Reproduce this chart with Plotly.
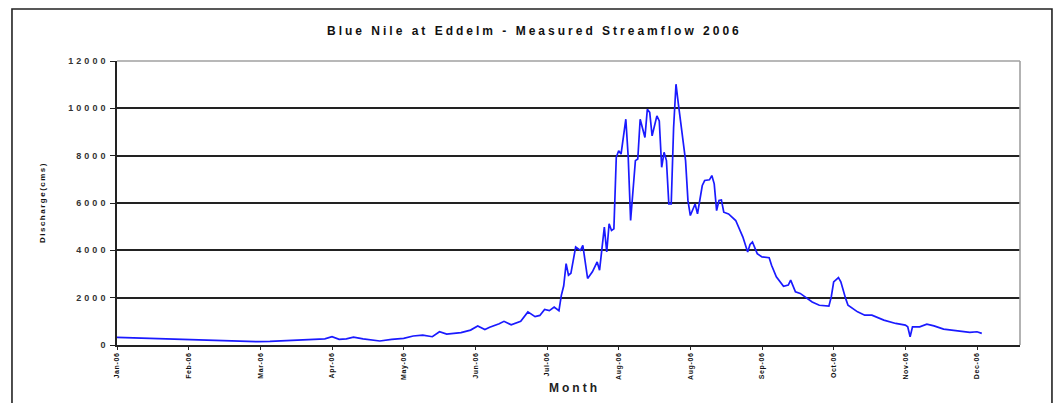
import pandas as pd
import plotly.graph_objects as go

# Daily discharge of the Blue Nile at Eddeim, 2006 (day offset from 1 Jan, m3/s)
day_of_year = [
    0, 7, 14, 22, 29, 38, 46, 53, 59, 64, 69, 76, 82, 87, 90, 93, 96, 99, 103,
    107, 110, 115, 120, 124, 128, 132, 135, 138, 141, 144, 148, 151, 154, 156,
    160, 162, 165, 169, 172, 175, 177, 179, 181, 183, 185, 186, 187, 188, 189,
    190, 192, 194, 195, 197, 199, 201, 202, 204, 205, 206, 207, 208, 209, 210,
    211, 213, 214, 215, 217, 218, 219, 221, 222, 223, 224, 226, 227, 228, 229,
    230, 231, 232, 233, 234, 235, 237, 238, 239, 240, 242, 243, 245, 246, 248,
    249, 250, 251, 252, 253, 254, 256, 259, 261, 262, 264, 265, 266, 268, 270,
    273, 274, 276, 279, 281, 282, 284, 286, 288, 291, 294, 298, 299, 300, 302,
    303, 305, 306, 310, 313, 316, 321, 326, 330, 331, 332, 333, 336, 339, 342,
    346, 351, 357, 360, 362,
]
discharge_cms = [
    320, 300, 280, 250, 210, 190, 180, 160, 140, 150, 170, 200, 240, 260, 350,
    240, 260, 330, 260, 200, 170, 240, 280, 380, 420, 350, 560, 460, 500, 520,
    630, 800, 650, 750, 900, 1000, 850, 1000, 1400, 1200, 1250, 1500, 1450,
    1600, 1450, 2100, 2500, 3440, 2950, 3030, 4140, 4000, 4210, 2810, 3090,
    3510, 3160, 4980, 3930, 5120, 4840, 4910, 7930, 8210, 8070, 9540, 7930,
    5260, 7790, 7860, 9540, 8770, 9960, 9830, 8840, 9680, 9470, 7510, 8140,
    7790, 5960, 5960, 9190, 11020, 10180, 8630, 7790, 6110, 5470, 5960, 5540,
    6740, 6950, 6980, 7160, 6810, 5680, 6110, 6130, 5610, 5540, 5260, 4840,
    4560, 3930, 4250, 4350, 3860, 3720, 3690, 3370, 2880, 2480, 2530, 2740,
    2250, 2180, 2040, 1820, 1680, 1640, 2040, 2670, 2850, 2670, 1970, 1680,
    1400, 1260, 1260, 1050, 910, 840, 770, 350, 770, 770, 880, 810, 670, 600,
    530, 560, 490,
]

# Axis ticks every 30 days from 1 Jan
tick_labels = [
    "Jan-06", "Feb-06", "Mar-06", "Apr-06", "May-06", "Jun-06", "Jul-06",
    "Aug-06", "Aug-06", "Sep-06", "Oct-06", "Nov-06", "Dec-06",
]
y_ticks = [0, 2000, 4000, 6000, 8000, 10000, 12000]

start = pd.Timestamp("2006-01-01")
dates = start + pd.to_timedelta(day_of_year, unit="D")
tick_dates = pd.date_range(start, periods=len(tick_labels), freq="30D")

FONT = "Liberation Sans, Arial, sans-serif"


def spaced(text, px):
    return f'<span style="letter-spacing:{px}px">{text}</span>'


fig = go.Figure()
fig.add_trace(go.Scatter(
    x=dates, y=discharge_cms, mode="lines",
    line=dict(color="#1a1aff", width=1.7),
    hoverinfo="x+y", showlegend=False,
))

fig.update_layout(
    width=1056, height=403,
    margin=dict(l=117, r=36, t=61, b=58),
    paper_bgcolor="white", plot_bgcolor="white",
    font=dict(family=FONT, color="#111111"),
    xaxis=dict(
        type="date",
        range=[start, start + pd.Timedelta(days=378)],
        tickvals=tick_dates, ticktext=[spaced(t, 0.6) for t in tick_labels],
        tickangle=-90, tickfont=dict(size=7, family=FONT, weight="bold"),
        ticks="outside", ticklen=3, tickcolor="#222", tickwidth=1.2,
        showgrid=False, showline=True, linecolor="#222", linewidth=1.6,
        zeroline=False,
    ),
    yaxis=dict(
        range=[0, 12000],
        tickvals=y_ticks, ticktext=[spaced(str(v), 3) for v in y_ticks],
        tickfont=dict(size=9, family=FONT, weight="bold", color="#333"),
        ticks="outside", ticklen=5, tickcolor="#222", tickwidth=1.4,
        showgrid=True, gridcolor="#222", gridwidth=1.6,
        showline=True, linecolor="#222", linewidth=1.6,
        zeroline=False,
    ),
    shapes=[
        # outer chart frame
        dict(type="rect", xref="paper", yref="paper",
             x0=-0.1163, x1=1.0354, y0=-0.25, y1=1.1831,
             line=dict(color="#222", width=1.6), layer="below"),
        # light frame on top and right of the plotting area
        dict(type="line", xref="paper", yref="paper", x0=0, x1=1, y0=1, y1=1,
             line=dict(color="#a0a0a0", width=1.6), layer="above"),
        dict(type="line", xref="paper", yref="paper", x0=1, x1=1, y0=0, y1=1,
             line=dict(color="#a0a0a0", width=1.6), layer="above"),
    ],
    annotations=[
        dict(text=spaced("<b>Blue Nile at Eddelm - Measured Streamflow 2006</b>", 3),
             xref="paper", yref="paper", x=0.462, y=1.106,
             xanchor="center", yanchor="middle", showarrow=False,
             font=dict(size=12, family=FONT, color="#111")),
        dict(text=spaced("<b>Month</b>", 3),
             xref="paper", yref="paper", x=0.507, y=-0.151,
             xanchor="center", yanchor="middle", showarrow=False,
             font=dict(size=12, family=FONT, color="#222")),
        dict(text=spaced("<b>Discharge(cms)</b>", 1.5),
             xref="paper", yref="paper", x=-0.083, y=0.5, textangle=-90,
             xanchor="center", yanchor="middle", showarrow=False,
             font=dict(size=8, family=FONT, color="#111")),
    ],
)

fig.write_html("out.html")
